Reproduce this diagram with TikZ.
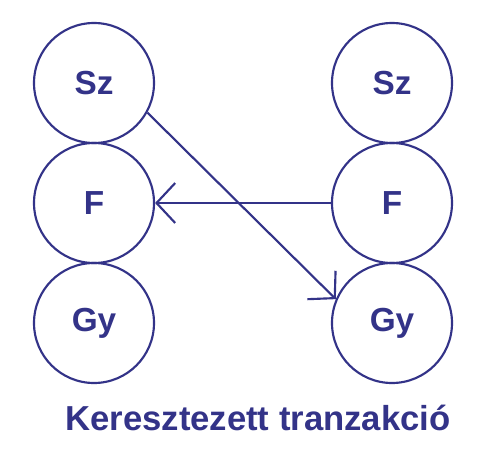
\documentclass[tikz,border=0pt]{standalone}
\usepackage{fontspec}
\setmainfont{Liberation Sans}
\usetikzlibrary{arrows.meta}
\definecolor{dblue}{RGB}{51,51,136}
\begin{document}
\begin{tikzpicture}[x=0.75pt,y=-0.75pt,
  circ/.style={circle,draw=dblue,line width=1.6pt,minimum size=90pt,inner sep=0pt,
    text=dblue,font=\bfseries\fontsize{25}{30}\selectfont},
  conn/.style={draw=dblue,line width=1.6pt,-{Straight Barb[length=14pt,width=30pt,line width=1.6pt]}}]
\useasboundingbox (0,0) rectangle (500,471);
\node[circ] (lsz) at (94,83) {Sz};
\node[circ] (lf) at (94,203) {F};
\node[circ] (lgy) at (94,323) {Gy};
\node[circ] (rsz) at (392,83) {Sz};
\node[circ] (rf) at (392,203) {F};
\node[circ] (rgy) at (392,323) {Gy};
\draw[conn] (lsz.-29) -- (rgy.157);
\draw[conn] (rf.west) -- (lf.east);
\node[text=dblue,font=\bfseries\fontsize{26}{31}\selectfont,anchor=base] (title) at (258,430) {Keresztezett tranzakció};
\end{tikzpicture}
\end{document}
